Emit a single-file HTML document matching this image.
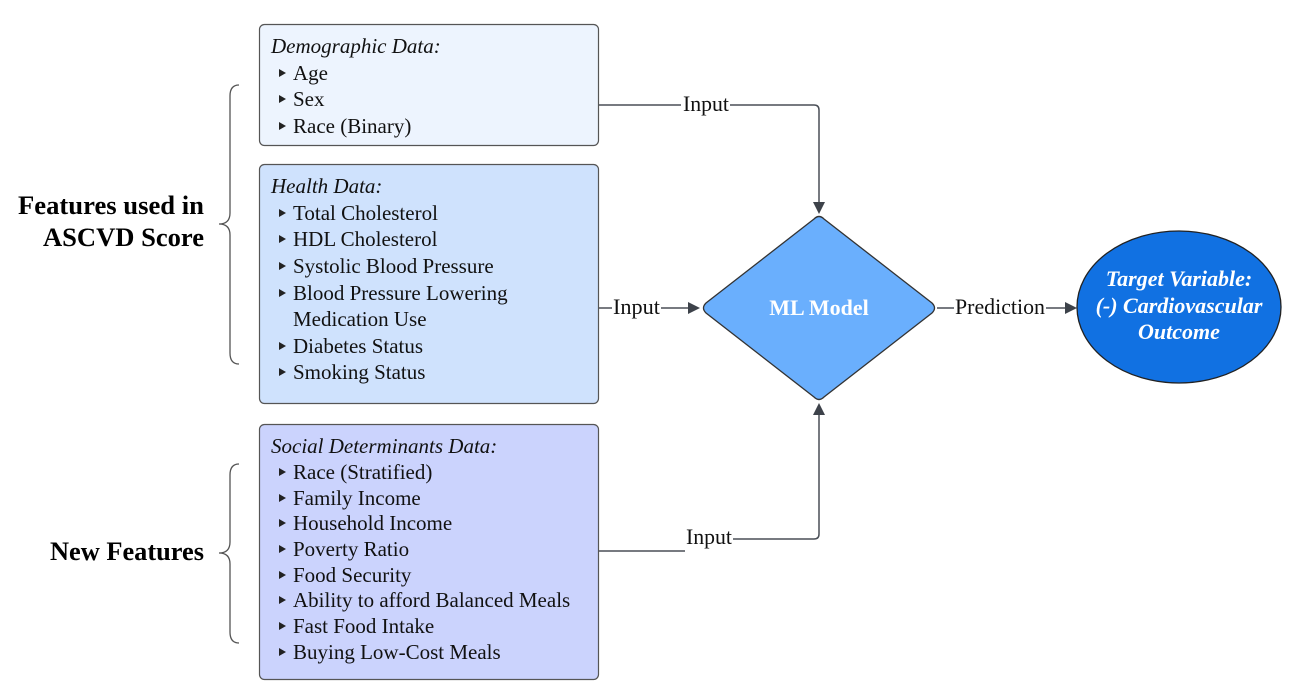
<!DOCTYPE html>
<html><head><meta charset="utf-8"><style>
html,body{margin:0;padding:0;background:#fff;}
svg{display:block;}
svg text{font-family:"Liberation Serif","Times New Roman",Times,"DejaVu Serif",serif !important;}
</style></head><body>
<svg width="1297" height="698" viewBox="0 0 1297 698" xmlns="http://www.w3.org/2000/svg" font-family="Liberation Serif, Times New Roman, serif">
<defs>
<polygon id="b" points="0,-4 7,0 0,4" fill="#222"/>
</defs>
<path d="M239,85 Q230,85 230,96 L230,213 Q230,224 219,224 Q230,224 230,235 L230,353 Q230,364 239,364" fill="none" stroke="#555" stroke-width="1.3"/>
<path d="M239,464 Q230,464 230,475 L230,542 Q230,553 219,553 Q230,553 230,564 L230,632 Q230,643 239,643" fill="none" stroke="#555" stroke-width="1.3"/>
<g font-weight="bold" font-size="26" text-anchor="end" fill="#000">
<text x="204" y="214" textLength="186" lengthAdjust="spacingAndGlyphs">Features used in</text>
<text x="204" y="246" textLength="161" lengthAdjust="spacingAndGlyphs">ASCVD Score</text>
<text x="204" y="560" textLength="154" lengthAdjust="spacingAndGlyphs">New Features</text>
</g>
<rect x="259.5" y="24.5" width="339" height="121" rx="5" fill="#edf4fe" stroke="#555" stroke-width="1.2"/>
<rect x="259.5" y="164.5" width="339" height="239" rx="5" fill="#cfe2fd" stroke="#555" stroke-width="1.2"/>
<rect x="259.5" y="424.5" width="339" height="255" rx="5" fill="#cbd3fd" stroke="#555" stroke-width="1.2"/>
<g font-size="21" fill="#111">
<text x="271" y="53" font-style="italic">Demographic Data:</text>
<use href="#b" x="279" y="73"/><text x="293" y="80">Age</text>
<use href="#b" x="279" y="99"/><text x="293" y="106">Sex</text>
<use href="#b" x="279" y="126"/><text x="293" y="133">Race (Binary)</text>

<text x="271" y="193" font-style="italic">Health Data:</text>
<use href="#b" x="279" y="213"/><text x="293" y="220">Total Cholesterol</text>
<use href="#b" x="279" y="239"/><text x="293" y="246">HDL Cholesterol</text>
<use href="#b" x="279" y="266"/><text x="293" y="273">Systolic Blood Pressure</text>
<use href="#b" x="279" y="293"/><text x="293" y="300">Blood Pressure Lowering</text>
<text x="293" y="326">Medication Use</text>
<use href="#b" x="279" y="346"/><text x="293" y="353">Diabetes Status</text>
<use href="#b" x="279" y="372"/><text x="293" y="379">Smoking Status</text>

<text x="271" y="453" font-style="italic">Social Determinants Data:</text>
<use href="#b" x="279" y="472"/><text x="293" y="479">Race (Stratified)</text>
<use href="#b" x="279" y="498"/><text x="293" y="505">Family Income</text>
<use href="#b" x="279" y="523"/><text x="293" y="530">Household Income</text>
<use href="#b" x="279" y="549"/><text x="293" y="556">Poverty Ratio</text>
<use href="#b" x="279" y="575"/><text x="293" y="582">Food Security</text>
<use href="#b" x="279" y="600"/><text x="293" y="607">Ability to afford Balanced Meals</text>
<use href="#b" x="279" y="626"/><text x="293" y="633">Fast Food Intake</text>
<use href="#b" x="279" y="652"/><text x="293" y="659">Buying Low-Cost Meals</text>
</g>
<g fill="none" stroke="#4a4f57" stroke-width="1.5">
<path d="M599,105 L681,105"/>
<path d="M730,105 L814,105 Q819,105 819,110 L819,203"/>
<path d="M599,308 L612,308"/>
<path d="M661,308 L688,308"/>
<path d="M937,308 L954,308"/>
<path d="M1046,308 L1066,308"/>
<path d="M599,551 L685,551"/>
<path d="M733,539 L814,539 Q819,539 819,534 L819,414"/>
</g>
<g fill="#3d424a">
<polygon points="813,202 825,202 819,214"/>
<polygon points="688,302 688,314 700,308"/>
<polygon points="1065,302 1065,314 1077,308"/>
<polygon points="813,415 825,415 819,403"/>
</g>
<g font-size="22" fill="#111">
<text x="683" y="111" textLength="46" lengthAdjust="spacingAndGlyphs">Input</text>
<text x="613" y="314" textLength="47" lengthAdjust="spacingAndGlyphs">Input</text>
<text x="955" y="314" textLength="90" lengthAdjust="spacingAndGlyphs">Prediction</text>
<text x="686" y="544" textLength="46" lengthAdjust="spacingAndGlyphs">Input</text>
</g>
<path d="M814,219 Q819,214 824,219 L932,303 Q937,308 932,313 L824,397 Q819,402 814,397 L706,313 Q701,308 706,303 Z" fill="#6aaffd" stroke="#333" stroke-width="1.3"/>
<text x="819" y="315" text-anchor="middle" font-size="22" font-weight="bold" fill="#fff">ML Model</text>
<ellipse cx="1179" cy="307" rx="102" ry="76" fill="#1171e2" stroke="#222" stroke-width="1.3"/>
<g font-size="22" font-weight="bold" font-style="italic" fill="#fff" text-anchor="middle">
<text x="1179" y="286">Target Variable:</text>
<text x="1179" y="313">(-) Cardiovascular</text>
<text x="1179" y="339">Outcome</text>
</g>
</svg>
</body></html>
